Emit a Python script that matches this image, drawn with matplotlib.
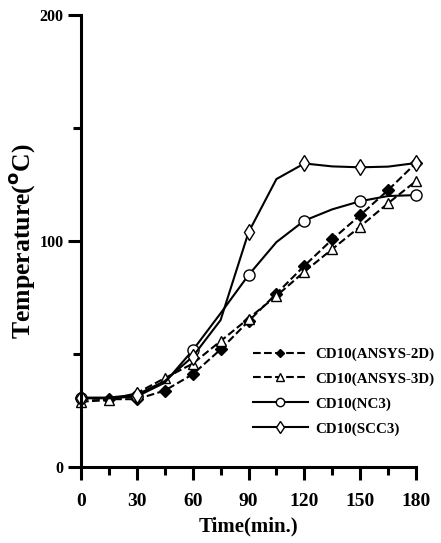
import matplotlib
matplotlib.use("Agg")
import matplotlib.pyplot as plt
from matplotlib.ticker import MultipleLocator

plt.rcParams["font.family"] = ["Liberation Serif", "DejaVu Serif"]
plt.rcParams["font.weight"] = "bold"
plt.rcParams["mathtext.default"] = "bf"

time = [0, 15, 30, 45, 60, 75, 90, 105, 120, 135, 150, 165, 180]
ansys_2d = [30.4, 30.0, 30.0, 33.8, 41.0, 52.0, 64.5, 76.7, 89.0, 100.7, 111.4, 122.5, 134.5]
ansys_3d = [28.9, 29.6, 32.7, 39.3, 45.7, 55.7, 65.7, 75.7, 86.4, 96.4, 106.4, 116.7, 126.5]
nc3 = [30.4, 30.4, 31.2, 37.3, 51.6, 68.0, 84.9, 99.5, 109.0, 114.0, 117.6, 119.9, 120.3]
scc3 = [30.7, 30.7, 32.0, 38.0, 48.8, 65.0, 103.8, 127.4, 134.3, 133.0, 132.6, 132.9, 134.5]

fig = plt.figure(figsize=(4.41, 5.43), dpi=100)
ax = fig.add_axes([0.1837, 0.14, 0.7596, 0.8324])

lw = 1.5
ax.plot(time, ansys_2d, "--", color="black", lw=lw, marker="D", ms=6,
        mfc="black", mec="black", label="CD10(ANSYS-2D)")
ax.plot(time, ansys_3d, "--", color="black", lw=lw, marker="^", ms=7,
        mfc="white", mec="black", label="CD10(ANSYS-3D)")
ax.plot(time, nc3, "-", color="black", lw=lw, marker="o", ms=8,
        mfc="white", mec="black", markevery=2, label="CD10(NC3)")
ax.plot(time, scc3, "-", color="black", lw=lw, marker="d", ms=8,
        mfc="white", mec="black", markevery=2, label="CD10(SCC3)")

ax.set_xlim(0, 180)
ax.set_ylim(0, 200)
ax.xaxis.set_major_locator(MultipleLocator(30))
ax.xaxis.set_minor_locator(MultipleLocator(15))
ax.yaxis.set_major_locator(MultipleLocator(100))
ax.yaxis.set_minor_locator(MultipleLocator(50))

for side in ("top", "right"):
    ax.spines[side].set_visible(False)
for side in ("left", "bottom"):
    ax.spines[side].set_linewidth(2.2)

ax.tick_params(which="major", direction="out", length=9.5, width=2.2)
ax.tick_params(which="minor", direction="out", length=6, width=2.2)
ax.tick_params(axis="x", labelsize=14, pad=9)
ax.tick_params(axis="y", labelsize=11.5, pad=3)
for lab in ax.get_xticklabels() + ax.get_yticklabels():
    lab.set_fontweight("bold")

ax.set_xlabel("Time(min.)", fontsize=15, fontweight="bold", labelpad=5)
ax.set_ylabel("Temperature($^{\\mathbf{o}}$C)", fontsize=18.5, fontweight="bold",
              labelpad=2)

ax.legend(loc="center left", bbox_to_anchor=(0.472, 0.167), frameon=False,
          handlelength=3.7, handletextpad=0.45, labelspacing=0.75,
          markerscale=0.75, prop={"weight": "bold", "size": 10.8})

for line in ax.get_lines():
    line.set_clip_on(False)

fig.savefig("out.png", dpi=100)
